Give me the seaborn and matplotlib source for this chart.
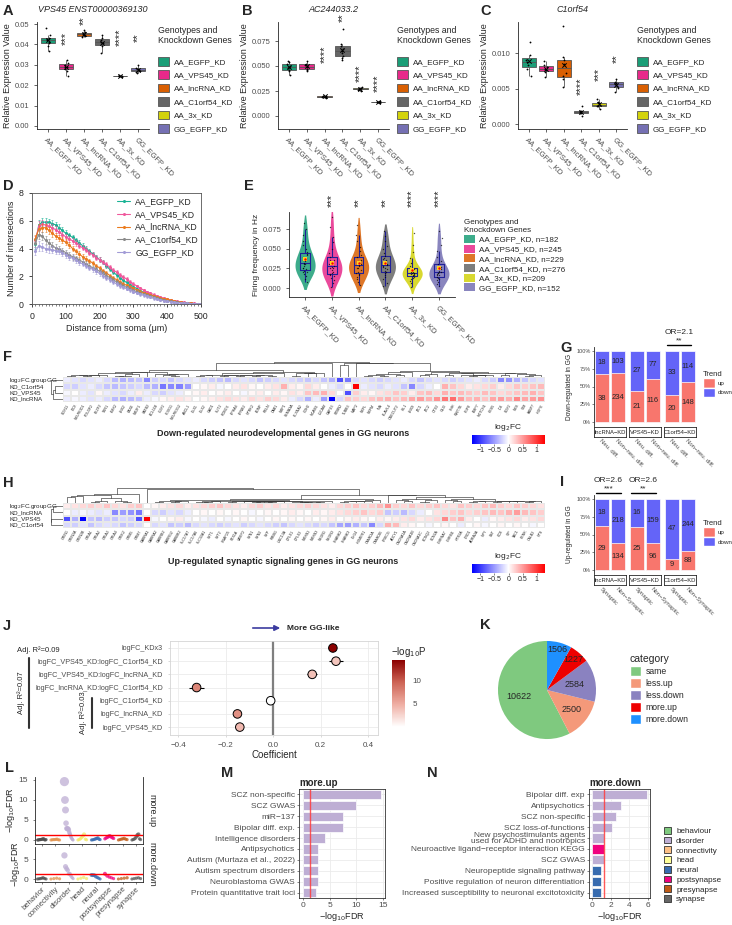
import numpy as np
import pandas as pd
import matplotlib
matplotlib.use("Agg")
import matplotlib.pyplot as plt
from matplotlib.patches import Patch
from matplotlib.lines import Line2D
from matplotlib.colors import LinearSegmentedColormap, Normalize
from matplotlib.cm import ScalarMappable
import seaborn as sns

# ---------------------------------------------------------------- data
groups = ["AA_EGFP_KD", "AA_VPS45_KD", "AA_lncRNA_KD", "AA_C1orf54_KD", "AA_3x_KD", "GG_EGFP_KD"]
group_colors = ["#1B9E77", "#E7298A", "#D95F02", "#666666", "#D2D20C", "#7570B3"]

# A-C: qPCR relative expression
vps45_expr = [[0.037, 0.039, 0.0405, 0.041, 0.042, 0.0425, 0.043, 0.0445, 0.048],
              [0.0245, 0.027, 0.028, 0.029, 0.029, 0.030, 0.031, 0.0325],
              [0.0435, 0.044, 0.0445, 0.045, 0.0455, 0.046, 0.047],
              [0.036, 0.039, 0.0405, 0.041, 0.042, 0.043, 0.0445],
              [0.0242, 0.0244, 0.0245, 0.0245, 0.0246, 0.0248],
              [0.026, 0.0265, 0.027, 0.0275, 0.028, 0.0285, 0.030]]
vps45_stars = ["", "***", "**", "", "****", "**"]
vps45_star_y = [0, 0.0427, 0.0518, 0, 0.0433, 0.0433]

ac244033_expr = [[0.041, 0.045, 0.0465, 0.048, 0.049, 0.050, 0.052, 0.054, 0.0555],
                 [0.045, 0.0465, 0.047, 0.049, 0.050, 0.0515, 0.0525, 0.0555],
                 [0.0185, 0.019, 0.0193, 0.0195, 0.0198, 0.020, 0.0205],
                 [0.056, 0.058, 0.060, 0.063, 0.065, 0.067, 0.070, 0.072, 0.087],
                 [0.025, 0.0265, 0.027, 0.0275, 0.028, 0.0285, 0.029],
                 [0.0132, 0.0137, 0.014, 0.0142, 0.0145, 0.0148]]
ac244033_stars = ["", "", "****", "**", "****", "****"]
ac244033_star_y = [0, 0, 0.0618, 0.098, 0.0426, 0.033]

c1orf54_expr = [[0.0068, 0.0078, 0.0083, 0.0087, 0.0090, 0.0097, 0.0116],
                [0.0067, 0.0073, 0.0076, 0.0078, 0.0080, 0.0084, 0.0089],
                [0.0052, 0.0063, 0.0068, 0.0072, 0.0085, 0.0090, 0.0094, 0.0138],
                [0.0011, 0.0015, 0.0016, 0.0017, 0.0018, 0.0019, 0.0026],
                [0.0021, 0.0025, 0.0026, 0.0027, 0.0029, 0.0031, 0.0036],
                [0.0045, 0.0051, 0.0054, 0.0056, 0.0058, 0.0060, 0.0064]]
c1orf54_stars = ["", "", "", "****", "***", "**"]
c1orf54_star_y = [0, 0, 0, 0.0053, 0.0070, 0.0093]

# D: Sholl analysis
sholl_groups = ["AA_EGFP_KD", "AA_VPS45_KD", "AA_lncRNA_KD", "AA_C1orf54_KD", "GG_EGFP_KD"]
sholl_colors = ["#19B394", "#F0589C", "#EB7B1E", "#8A8A8A", "#A29BD6"]
sholl_dist = list(range(10, 510, 10))
sholl_egfp = [4.3, 5.7, 5.9, 5.9, 5.9, 5.8, 5.7, 5.5, 5.3, 5.1, 4.95, 4.8, 4.6, 4.4, 4.2, 4.0, 3.8, 3.6, 3.4, 3.2,
              3.0, 2.75, 2.5, 2.3, 2.1, 1.9, 1.7, 1.55, 1.4, 1.26, 1.1, 0.95, 0.85, 0.75, 0.67, 0.58, 0.48, 0.4, 0.34, 0.3,
              0.25, 0.2, 0.16, 0.12, 0.1, 0.07, 0.05, 0.03, 0.02, 0.01]
sholl_vps45 = [4.6, 5.6, 5.75, 5.7, 5.6, 5.5, 5.35, 5.2, 5.0, 4.85, 4.7, 4.55, 4.4, 4.2, 4.05, 3.9, 3.7, 3.55, 3.35, 3.2,
               3.0, 2.85, 2.65, 2.45, 2.3, 2.1, 1.95, 1.8, 1.6, 1.45, 1.3, 1.15, 1.0, 0.88, 0.78, 0.68, 0.58, 0.5, 0.42, 0.35,
               0.29, 0.24, 0.19, 0.15, 0.12, 0.09, 0.06, 0.04, 0.03, 0.02]
sholl_lncrna = [4.7, 5.4, 5.5, 5.5, 5.3, 5.1, 4.9, 4.75, 4.6, 4.45, 4.25, 4.0, 3.8, 3.6, 3.4, 3.25, 3.1, 2.95, 2.75, 2.6,
                2.4, 2.25, 2.05, 1.9, 1.75, 1.6, 1.45, 1.35, 1.25, 1.15, 1.0, 0.9, 0.8, 0.72, 0.65, 0.56, 0.48, 0.42, 0.38, 0.33,
                0.27, 0.22, 0.17, 0.13, 0.1, 0.07, 0.05, 0.03, 0.02, 0.01]
sholl_c1orf54 = [4.4, 5.0, 4.9, 4.6, 4.4, 4.2, 4.05, 3.95, 3.85, 3.7, 3.55, 3.4, 3.3, 3.15, 3.05, 2.9, 2.75, 2.6, 2.5, 2.35,
                 2.2, 2.05, 1.9, 1.75, 1.6, 1.45, 1.3, 1.2, 1.1, 1.0, 0.88, 0.78, 0.7, 0.62, 0.55, 0.47, 0.4, 0.34, 0.28, 0.23,
                 0.19, 0.15, 0.12, 0.09, 0.07, 0.05, 0.03, 0.02, 0.01, 0.01]
sholl_gg = [3.8, 4.2, 4.1, 4.0, 3.95, 3.9, 3.85, 3.8, 3.7, 3.55, 3.4, 3.3, 3.15, 3.0, 2.9, 2.75, 2.6, 2.5, 2.35, 2.2,
            2.05, 1.9, 1.75, 1.6, 1.45, 1.3, 1.2, 1.1, 1.0, 0.9, 0.8, 0.7, 0.62, 0.55, 0.48, 0.4, 0.34, 0.28, 0.23, 0.19,
            0.15, 0.12, 0.09, 0.07, 0.05, 0.04, 0.03, 0.02, 0.01, 0.01]
sholl_sem = [0.3, 0.35, 0.3, 0.28, 0.26, 0.25, 0.24, 0.23, 0.22, 0.21, 0.2, 0.2, 0.19, 0.19, 0.18, 0.18, 0.17, 0.17, 0.16, 0.16,
             0.15, 0.15, 0.14, 0.14, 0.13, 0.13, 0.12, 0.12, 0.11, 0.11, 0.1, 0.1, 0.09, 0.09, 0.08, 0.08, 0.07, 0.07, 0.06, 0.06,
             0.05, 0.05, 0.04, 0.04, 0.03, 0.03, 0.02, 0.02, 0.02, 0.01]

# E: firing frequency
firing_n = [182, 245, 229, 276, 209, 152]
firing_stars = ["", "***", "**", "**", "****", "****"]
firing_egfp = [0.008, 0.012, 0.015, 0.018, 0.020, 0.021, 0.022, 0.024, 0.025, 0.026, 0.028, 0.030, 0.031, 0.032,
               0.034, 0.036, 0.038, 0.040, 0.042, 0.043, 0.046, 0.050, 0.055, 0.060, 0.068, 0.075, 0.083]
firing_vps45 = [0.001, 0.006, 0.010, 0.013, 0.015, 0.017, 0.018, 0.019, 0.021, 0.023, 0.025, 0.026, 0.027, 0.028,
                0.030, 0.031, 0.033, 0.035, 0.036, 0.040, 0.044, 0.050, 0.058, 0.065, 0.078, 0.090]
firing_lncrna = [0.004, 0.008, 0.011, 0.014, 0.016, 0.018, 0.019, 0.021, 0.023, 0.025, 0.026, 0.028, 0.029, 0.030,
                 0.031, 0.033, 0.034, 0.036, 0.039, 0.042, 0.047, 0.052, 0.060, 0.068, 0.080]
firing_c1orf54 = [0.002, 0.007, 0.011, 0.014, 0.017, 0.019, 0.020, 0.022, 0.024, 0.025, 0.027, 0.028, 0.029, 0.031,
                  0.033, 0.035, 0.037, 0.038, 0.041, 0.045, 0.049, 0.054, 0.060, 0.066, 0.072]
firing_3x = [0.001, 0.006, 0.009, 0.011, 0.013, 0.014, 0.015, 0.016, 0.017, 0.018, 0.018, 0.019, 0.019, 0.020,
             0.021, 0.022, 0.023, 0.024, 0.025, 0.028, 0.032, 0.038, 0.046, 0.055, 0.070]
firing_gg = [0.002, 0.005, 0.008, 0.010, 0.012, 0.013, 0.014, 0.016, 0.017, 0.018, 0.019, 0.019, 0.020, 0.021,
             0.022, 0.024, 0.025, 0.027, 0.030, 0.034, 0.040, 0.047, 0.055, 0.063, 0.073]

# F: down-regulated neurodevelopmental genes
f_rows = ["log$_2$FC.groupGG", "KD_C1orf54", "KD_VPS45", "KD_lncRNA"]
f_genes = ["SOX11", "DCX", "NEUROD1", "POU3F2", "FEZF2", "TBR1", "EMX2", "LHX2", "PAX6", "NR2F1", "SATB2", "BCL11B",
           "CUX2", "FOXG1", "NEUROG2", "ASCL1", "DLX1", "DLX2", "GAD1", "SLIT2", "ROBO1", "EPHA4", "EFNB2", "NTRK2",
           "BDNF", "RELN", "DAB1", "NRP1", "SEMA3A", "PLXNA2", "CDH2", "NCAM1", "L1CAM", "GAP43", "STMN2", "TUBB3",
           "MAP2", "NEFL", "NEFM", "INA", "ELAVL4", "ONECUT2", "ISL1", "LHX9", "ZIC1", "ZIC2", "OTX2", "GLI3", "SHH",
           "WNT7B", "FGF8", "BMP7", "NOTCH1", "HES5", "ID4", "SOX2", "NES", "VIM", "FABP7", "HOPX"]
f_gg = [-0.1, -0.15, -0.2, -0.15, -0.1, -0.2, -0.35, -0.4, -0.35, -0.3, -0.6, -0.25, -0.2, -0.3, -0.2, -0.15, -0.1, -0.2,
        -0.25, -0.3, -0.35, -0.2, -0.15, -0.2, -0.3, -0.25, -0.2, -0.15, -0.2, -0.25, -0.3, -0.2, -0.3, -0.4, -0.9, -0.7,
        -0.2, -0.15, -0.2, -0.25, -0.2, -0.15, -0.1, -0.2, -0.3, -0.2, -0.15, -0.2, -0.25, -0.2, -0.15, -0.1, -0.2, -0.25,
        -0.6, -0.55, -0.4, -0.3, -0.2, -0.15]
f_c1orf54 = [-0.2, -0.25, -0.15, -0.1, -0.2, -0.3, -0.35, -0.3, -0.25, -0.2, -0.35, -0.4, -0.7, -0.6, -0.65, -0.5, 0.0,
             0.05, 0.1, -0.05, 0.0, 0.1, 0.15, 0.05, 0.0, 0.1, 0.15, 0.4, 0.1, 0.05, 0.2, 0.1, 0.0, -0.1, -0.2, 0.0, 1.3,
             -0.1, -0.15, -0.2, -0.1, -0.15, -0.3, -0.6, -0.2, -0.1, 0.0, 0.4, 0.3, 0.2, 0.1, 0.15, 0.2, 0.25, 0.1, 0.2,
             0.3, 0.25, 0.3, 0.35]
f_vps45 = [-0.05, 0.0, -0.1, -0.15, 0.05, -0.1, -0.15, -0.2, -0.1, 0.1, -0.1, -0.2, -0.25, -0.15, -0.1, 0.0, 0.05, 0.1,
           0.0, 0.05, 0.1, 0.0, -0.05, 0.05, 0.1, 0.0, 0.1, 0.05, 0.15, 0.1, 0.3, 0.35, 0.4, 0.2, 0.0, -0.9, 0.25, 0.1,
           0.05, 0.15, 0.2, 0.3, 0.25, 0.1, 0.3, 0.35, 0.2, 0.4, 0.3, 0.35, 0.3, 0.25, 0.35, 0.3, 0.2, 0.25, 0.3, 0.35,
           0.4, 0.3]
f_lncrna = [-0.1, -0.05, -0.1, -0.15, -0.1, -0.2, -0.35, -0.4, -0.35, -0.3, -0.1, -0.05, 0.05, 0.1, 0.15, 0.1, 0.0, 0.05,
            0.1, 0.15, 0.2, 0.15, 0.1, 0.2, 0.15, 0.25, 0.2, 0.1, -0.1, -0.2, -0.4, -0.1, -0.5, -1.3, -0.2, 0.3, 0.25,
            0.2, 0.3, 0.35, 0.4, 0.3, 0.35, 0.45, 0.5, 0.4, 0.55, 0.7, 0.75, 0.5, 0.35, 0.4, 0.3, 0.45, 0.5, 0.4, 0.6,
            0.45, 0.5, 0.55]

# H: up-regulated synaptic signaling genes
h_rows = ["log$_2$FC.groupGG", "KD_lncRNA", "KD_VPS45", "KD_C1orf54"]
h_genes = ["GRIN1", "GRIN2A", "GRIN2B", "GRIA1", "GRIA2", "GRIA3", "GRIA4", "GRIK2", "GRM5", "GRM7", "GABRA1", "GABRA2",
           "GABRB2", "GABRG2", "GABBR2", "SLC17A7", "SLC17A6", "SLC32A1", "SYT1", "SYT2", "SNAP25", "STX1A", "VAMP2",
           "SYN1", "SYN2", "SYP", "RIMS1", "UNC13A", "CPLX1", "CPLX2", "NRXN1", "NRXN3", "NLGN1", "NLGN3", "SHANK2",
           "SHANK3", "DLG4", "HOMER1", "CAMK2A", "CAMK2B", "PRKCG", "ADCY1", "CACNA1A", "CACNA1B", "CACNA1C", "KCNQ2",
           "SCN2A", "CHRNA7", "CHRM1", "HTR2A", "DRD1", "ADRA2A", "NPY", "SST", "CCK", "VIP", "TAC1", "PENK", "CALB2", "NTS"]
h_gg = [0.1, 0.15, 0.2, 0.25, 0.2, 0.3, 0.2, 0.15, 0.25, 0.3, 0.0, 0.05, 0.1, 0.15, 0.2, 0.1, 0.15, 0.2, 0.25, 0.3, 0.2,
        0.15, 0.1, 0.2, 0.25, 0.15, 0.2, 0.1, 0.15, 0.2, 0.25, 0.2, 0.15, 0.1, 0.2, 0.25, 0.3, 0.2, 0.25, 0.35, 0.55, 0.25,
        0.2, 0.3, 0.2, 0.25, 0.3, 0.2, 0.15, 0.3, 0.25, 0.2, 0.3, 0.35, 0.25, 0.2, 0.3, 0.25, 0.2, 0.15]
h_lncrna = [0.0, -0.1, -0.05, -0.1, -0.15, -0.1, -0.6, -0.5, -0.55, -0.7, 0.0, -0.2, -0.25, -0.15, -0.2, -0.1, 0.0, 0.05,
            0.0, 0.05, 0.0, 0.05, 0.0, -0.05, 0.0, 0.05, 0.0, 0.05, 0.1, 0.05, 0.0, 0.1, 0.05, 0.1, 0.15, 0.2, 0.25, 0.3,
            0.2, 0.25, -0.3, -0.25, -0.35, -0.2, -0.1, 0.0, 0.15, 0.2, 0.25, 0.3, 0.2, 0.25, 0.3, 0.35, 0.3, 0.4, 0.5,
            0.35, 0.3, 0.25]
h_vps45 = [-0.9, -0.4, -1.3, -0.3, -0.35, -0.25, -0.3, -0.2, -0.25, -0.9, 1.3, -0.05, 0.0, 0.05, 0.1, -0.05, 0.0, -0.05,
           -0.1, 0.0, -0.05, 0.0, 0.05, 0.0, -0.05, 0.0, 0.05, 0.0, 0.05, 0.0, 0.05, 0.0, 0.05, 0.1, 0.0, 0.05, 0.1, 0.05,
           0.0, 0.1, 0.05, 0.1, 0.15, 0.2, 0.1, 0.15, 0.2, 0.6, 0.3, 0.4, 0.1, 0.0, -0.1, 0.05, 0.1, 0.15, 0.2, 0.1,
           0.15, 0.2]
h_c1orf54 = [-0.2, -0.25, -0.15, -0.3, -0.2, -0.15, -0.2, -0.3, -0.25, -0.2, 0.0, -0.2, -0.15, -0.3, -0.25, -0.35, -0.2,
             -0.15, -0.2, -0.25, -0.2, -0.15, -0.25, -0.2, -0.15, -0.2, -0.25, -0.3, -0.2, -0.15, -0.2, -0.25, -0.2,
             -0.3, -0.45, -0.5, -0.4, -0.3, -0.6, -0.2, 0.4, 0.35, 0.1, 0.05, 0.0, -0.05, 0.0, 0.05, 0.0, -0.1, 0.0,
             0.05, -0.05, 0.0, 0.05, 0.0, 0.05, 0.0, -0.05, 0.0]

# G / I: trend counts
trend_facets = ["lncRNA\u2212KD", "VPS45\u2212KD", "C1orf54\u2212KD"]
g_cats = ["Neu. diff.", "Non\u2212neu. diff."]
g_up = [[38, 234], [21, 116], [20, 148]]
g_down = [[18, 103], [27, 77], [33, 114]]
i_cats = ["Synaptic", "Non\u2212Synaptic"]
i_up = [[29, 134], [25, 96], [9, 88]]
i_down = [[18, 218], [16, 159], [47, 244]]
trend_colors = {"up": "#F8766D", "down": "#6464F8"}

# J: regression coefficients
j_terms = ["logFC_KDx3", "logFC_VPS45_KD:logFC_C1orf54_KD", "logFC_VPS45_KD:logFC_lncRNA_KD",
           "logFC_lncRNA_KD:logFC_C1orf54_KD", "logFC_C1orf54_KD", "logFC_lncRNA_KD", "logFC_VPS45_KD"]
j_coef = [0.252, 0.265, 0.165, -0.322, -0.01, -0.15, -0.14]
j_se = [0.012, 0.028, 0.02, 0.03, 0.01, 0.012, 0.015]
j_nlogp = [14.5, 3.5, 3.8, 7.5, 0.0, 6.8, 4.2]

# K: pie
pie_cats = ["same", "less.up", "less.down", "more.up", "more.down"]
pie_counts = [10622, 2500, 2584, 1227, 1506]
pie_colors = ["#7FC97F", "#F4997A", "#8A82C0", "#EE0000", "#1E90FF"]

# L: enrichment per category
l_cats = ["behavior", "connectivity", "disorder", "head", "neural", "postsynapse", "presynapse", "synapse"]
l_colors = ["#4D4D4D", "#E0914A", "#BEAED4", "#F2E86A", "#386CB0", "#F0027F", "#BF5B17", "#595959"]
l_up = [[0.0, 0.0, 0.05, 0.1, 0.1, 0.15, 0.2, 0.25, 0.3, 0.05, 0.0, 0.1],
        [0.0, 0.05, 0.1, 0.1, 0.15, 0.2, 0.05, 0.0],
        [14.6, 10.0, 7.5, 4.2, 2.9, 2.8, 2.8, 2.8, 2.5, 1.9, 1.5, 1.2, 0.8, 0.5, 0.3, 0.1, 0.0],
        [0.0, 0.1, 0.3, 0.6, 1.0, 1.4, 0.2, 0.05],
        [0.0, 0.05, 0.1, 0.2, 0.3, 0.4, 0.5, 0.2, 0.1],
        [0.3, 0.5, 0.7, 0.9, 1.0, 0.8, 0.6, 0.4],
        [0.0, 0.1, 0.2, 0.3, 0.4, 0.2, 0.1],
        [0.0, 0.1, 0.2, 0.4, 0.8, 1.2, 1.4, 0.3, 0.1]]
l_down = [[0.0, 0.05, 0.1, 0.2, 0.3, 0.1, 0.0],
          [0.0, 0.1, 0.2, 0.05],
          [5.9, 3.1, 2.6, 2.2, 1.3, 1.3, 0.8, 0.4, 0.1],
          [0.0, 0.2, 0.4, 0.1],
          [1.0, 0.95, 0.95, 0.6, 0.4, 0.2, 0.0],
          [1.3, 0.8, 0.5, 0.3, 0.1],
          [0.0, 0.1, 0.2, 0.3],
          [0.0, 0.1, 0.2, 0.3, 0.1]]

# M / N: enriched terms
cat_names = ["behaviour", "disorder", "connectivity", "head", "neural", "postsynapse", "presynapse", "synapse"]
cat_colors = ["#7FC97F", "#BEAED4", "#FDC086", "#FFFF99", "#386CB0", "#F0027F", "#BF5B17", "#666666"]
m_terms = ["SCZ non-specific", "SCZ GWAS", "miR\u2212137", "Bipolar diff. exp.", "Intelligence disorders",
           "Antipsychotics", "Autism (Murtaza et al., 2022)", "Autism spectrum disorders", "Neuroblastoma GWAS",
           "Protein quantitative trait loci"]
m_vals = [14.6, 10.0, 7.5, 7.5, 4.2, 2.9, 2.8, 2.8, 2.8, 2.5]
m_cats = ["disorder"] * 10
n_terms = ["Bipolar diff. exp", "Antipsychotics", "SCZ non-specific", "SCZ loss-of-functions",
           "New psychostimulants agents\nused for ADHD and nootropics", "Neuroactive ligand\u2212receptor interaction KEGG",
           "SCZ GWAS", "Neuropeptide signaling pathway", "Positive regulation of neuron differentiation",
           "Increased susceptibility to neuronal excitotoxicity"]
n_vals = [5.9, 3.1, 2.6, 2.2, 1.25, 1.3, 1.3, 1.0, 0.95, 0.95]
n_cats = ["disorder", "disorder", "disorder", "disorder", "disorder", "postsynapse", "disorder", "neural", "neural", "neural"]

# ---------------------------------------------------------------- setup
W, H = 732, 925
sns.set_style("ticks")
plt.rcParams["font.family"] = ["Liberation Sans", "DejaVu Sans"]
plt.rcParams["axes.linewidth"] = 0.6
GREY = "#4D4D4D"

fig = plt.figure(figsize=(W / 100, H / 100), dpi=100)
fig.patch.set_facecolor("white")


def px_axes(l, t, r, b):
    return fig.add_axes([l / W, 1 - b / H, (r - l) / W, (b - t) / H])


def fx(x):
    return x / W


def fy(y):
    return 1 - y / H


def panel_label(x, y, s):
    fig.text(fx(x), fy(y), s, fontsize=10.5, fontweight="bold", ha="left", va="center")


# ---------------------------------------------------------------- A-C
def qpcr_panel(left, right, values, stars, star_y, title, ylim, yticks, ytl, legend_x):
    ax = px_axes(left, 22, right, 129)
    df = pd.DataFrame({"group": np.repeat(groups, [len(v) for v in values]),
                       "value": np.concatenate(values)})
    sns.boxplot(data=df, x="group", y="value", hue="group", order=groups, hue_order=groups,
                palette=group_colors, saturation=1, width=0.8, linewidth=0.6, linecolor="#555555",
                showfliers=False, showcaps=False, legend=False, ax=ax)
    sns.stripplot(data=df, x="group", y="value", order=groups, color="black", size=1.3,
                  jitter=0.12, ax=ax)
    ax.scatter(range(len(groups)), [np.mean(v) for v in values], marker="x", s=10,
               color="black", linewidths=0.7, zorder=5)
    for i, (s, y) in enumerate(zip(stars, star_y)):
        if s:
            ax.text(i, y, s, rotation=90, ha="center", va="center", fontsize=8, clip_on=False)
    sns.despine(ax=ax)
    ax.set_ylim(*ylim)
    ax.set_xlim(-0.6, 5.6)
    ax.set_yticks(yticks)
    ax.set_yticklabels(ytl)
    ax.set_xticks(range(len(groups)))
    ax.set_xticklabels(groups, rotation=-45, ha="left", rotation_mode="anchor")
    ax.tick_params(labelsize=5.5, labelcolor=GREY, length=2, width=0.5)
    ax.set_xlabel("")
    ax.set_ylabel("Relative Expression Value", fontsize=6.5, labelpad=2)
    fig.text(fx((left + right) / 2), fy(9), title, fontsize=6.5, style="italic", ha="center", va="center")
    fig.text(fx(legend_x), fy(26), "Genotypes and\nKnockdown Genes", fontsize=6.3, ha="left", va="top",
             linespacing=1.15)
    handles = [Patch(facecolor=c, edgecolor="#555555", linewidth=0.6) for c in group_colors]
    ax.legend(handles, groups, loc="upper left",
              bbox_to_anchor=(fx(legend_x), fy(57)), bbox_transform=fig.transFigure, frameon=False,
              fontsize=5.8, handlelength=1.4, handleheight=1.25, labelspacing=0.55,
              handletextpad=0.6, borderpad=0, borderaxespad=0)


qpcr_panel(37, 149, vps45_expr, vps45_stars, vps45_star_y, "VPS45 ENST00000369130", (-0.0015, 0.051),
           [0, 0.01, 0.02, 0.03, 0.04, 0.05], ["0.00", "0.01", "0.02", "0.03", "0.04", "0.05"], 158)
qpcr_panel(278, 389, ac244033_expr, ac244033_stars, ac244033_star_y, "AC244033.2", (-0.013, 0.094),
           [0, 0.025, 0.05, 0.075], ["0.000", "0.025", "0.050", "0.075"], 397)
qpcr_panel(518, 627, c1orf54_expr, c1orf54_stars, c1orf54_star_y, "C1orf54", (-0.0007, 0.0144),
           [0, 0.005, 0.01], ["0.000", "0.005", "0.010"], 637)
panel_label(3, 11, "A")
panel_label(242, 11, "B")
panel_label(480, 11, "C")

# ---------------------------------------------------------------- D
ax = px_axes(32, 193, 201, 304)
for name, vals, col in zip(sholl_groups, [sholl_egfp, sholl_vps45, sholl_lncrna, sholl_c1orf54, sholl_gg], sholl_colors):
    ax.errorbar(sholl_dist, vals, yerr=sholl_sem, fmt="none", ecolor=col, elinewidth=0.5, capsize=1, capthick=0.5, alpha=0.8)
    sns.lineplot(x=sholl_dist, y=vals, color=col, marker="o", markersize=2.2, markeredgewidth=0, linewidth=0.8, ax=ax)
ax.set_xlim(0, 500)
ax.set_ylim(0, 8)
ax.set_xticks(range(0, 600, 100))
ax.set_xticks(range(0, 510, 10), minor=True)
ax.set_yticks([0, 2, 4, 6, 8])
ax.tick_params(labelsize=6.3, length=2.5, width=0.6)
ax.tick_params(which="minor", length=1.2, width=0.4)
ax.set_xlabel("Distance from soma (\u03bcm)", fontsize=6.5, labelpad=2)
ax.set_ylabel("Number of intersections", fontsize=6.5, labelpad=2)
for s in ax.spines.values():
    s.set_color("#555555")
handles = [Line2D([0], [0], color=c, lw=0.8, marker="o", markersize=2.2, markeredgewidth=0) for c in sholl_colors]
ax.legend(handles, sholl_groups, loc="upper left", bbox_to_anchor=(fx(113), fy(193)), bbox_transform=fig.transFigure,
          frameon=False, fontsize=6.2, handlelength=1.5, labelspacing=0.42, borderpad=0, handletextpad=0.6)
panel_label(3, 186, "D")

# ---------------------------------------------------------------- E
ax = px_axes(289, 212, 455, 297)
firing = [firing_egfp, firing_vps45, firing_lncrna, firing_c1orf54, firing_3x, firing_gg]
df_e = pd.DataFrame({"group": np.repeat(groups, [len(v) for v in firing]), "freq": np.concatenate(firing)})
sns.violinplot(data=df_e, x="group", y="freq", hue="group", order=groups, hue_order=groups, palette=group_colors,
               saturation=1, inner=None, cut=1, density_norm="width", width=0.75, linewidth=0, legend=False, ax=ax)
for coll in ax.collections:
    coll.set_alpha(0.85)
sns.stripplot(data=df_e, x="group", y="freq", order=groups, color="black", size=1.0, alpha=0.7, jitter=0.1, ax=ax)
sns.boxplot(data=df_e, x="group", y="freq", order=groups, fill=False, color="#1F1F99", width=0.35, linewidth=0.8,
            showfliers=False, showcaps=False, ax=ax)
means = [np.mean(v) for v in firing]
ax.scatter(range(6), means, marker="s", s=11, color="#FFD21F", zorder=6, linewidths=0)
ax.scatter(range(6), means, marker="o", s=3, color="red", zorder=7, linewidths=0)
for i, s in enumerate(firing_stars):
    if s:
        ax.text(i, 0.1025, s, rotation=90, ha="center", va="bottom", fontsize=8, clip_on=False)
sns.despine(ax=ax)
ax.set_ylim(-0.0114, 0.0966)
ax.set_xlim(-0.6, 5.6)
ax.set_yticks([0, 0.025, 0.05, 0.075])
ax.set_yticklabels(["0.000", "0.025", "0.050", "0.075"])
ax.set_xticks(range(6))
ax.set_xticklabels(groups, rotation=-45, ha="left", rotation_mode="anchor")
ax.tick_params(labelsize=5.5, labelcolor=GREY, length=2, width=0.5)
ax.set_xlabel("")
ax.set_ylabel("Firing frequency in Hz", fontsize=6, labelpad=2)
handles = [Patch(facecolor=c, alpha=0.85, linewidth=0) for c in group_colors]
ax.legend(handles, [f"{g}, n={n}" for g, n in zip(groups, firing_n)], title="Genotypes and\nKnockdown Genes",
          loc="upper left", bbox_to_anchor=(fx(464), fy(219)), bbox_transform=fig.transFigure, frameon=False,
          fontsize=5.8, title_fontsize=5.8, handlelength=1.4, handleheight=1.15, labelspacing=0.12,
          handletextpad=0.5, borderpad=0, borderaxespad=0, alignment="left")
panel_label(244, 186, "E")


# ---------------------------------------------------------------- F / H heatmaps
def ordered_linkage(obs):
    obs = np.asarray(obs, dtype=float)
    dist = np.sqrt(((obs[:, None, :] - obs[None, :, :]) ** 2).sum(-1))
    members = [[i] for i in range(len(obs))]
    centers = [i + 0.5 for i in range(len(obs))]
    heights = [0.0] * len(obs)
    links = []
    while len(members) > 1:
        d = [dist[np.ix_(members[k], members[k + 1])].mean() for k in range(len(members) - 1)]
        k = int(np.argmin(d))
        h = max(d[k], heights[k] * 1.02, heights[k + 1] * 1.02)
        links.append((centers[k], heights[k], centers[k + 1], heights[k + 1], h))
        members[k] = members[k] + members.pop(k + 1)
        centers[k] = (centers[k] + centers.pop(k + 1)) / 2
        heights.pop(k + 1)
        heights[k] = h
    return links


hm_cmap = LinearSegmentedColormap.from_list("bwr_ph", ["#0000FF", "#FFFFFF", "#FF0000"])


def heatmap_panel(rows, row_names, genes, top, title, title_y):
    mat = np.array(rows)
    hl, hr = 63, 545
    ax_d = px_axes(hl, top, hr, top + 15)
    links = ordered_linkage(mat.T)
    for x1, h1, x2, h2, h in links:
        ax_d.plot([x1, x1, x2, x2], [h1, h, h, h2], color="#333333", lw=0.45)
    ax_d.set_xlim(0, mat.shape[1])
    ax_d.set_ylim(0, max(l[4] for l in links) * 1.02)
    ax_d.axis("off")
    ax_r = px_axes(51, top + 15, hl, top + 40)
    rlinks = ordered_linkage(mat)
    for x1, h1, x2, h2, h in rlinks:
        ax_r.plot([h1, h, h, h2], [x1, x1, x2, x2], color="#333333", lw=0.45)
    ax_r.set_ylim(mat.shape[0], 0)
    ax_r.set_xlim(max(l[4] for l in rlinks) * 1.02, 0)
    ax_r.axis("off")
    ax_h = px_axes(hl, top + 15, hr, top + 40)
    ax_c = px_axes(472, title_y + 2, 545, title_y + 11)
    sns.heatmap(mat, ax=ax_h, cmap=hm_cmap, vmin=-1.3, vmax=1.3, cbar=True, cbar_ax=ax_c,
                cbar_kws={"orientation": "horizontal", "ticks": [-1, -0.5, 0, 0.5, 1]},
                xticklabels=genes, yticklabels=False, linewidths=0.15, linecolor="#E8E8E8")
    ax_h.set_xticklabels(genes, rotation=60, ha="right", rotation_mode="anchor", fontsize=2.6)
    ax_h.tick_params(axis="x", length=0, pad=1)
    for i, name in enumerate(row_names):
        fig.text(fx(9), fy(top + 15 + (i + 0.5) * 25 / len(row_names)), name, fontsize=4.5, ha="left", va="center")
    cb = ax_h.collections[0].colorbar
    cb.outline.set_visible(False)
    cb.ax.set_xticklabels(["\u22121", "\u22120.5", "0", "0.5", "1"])
    cb.ax.tick_params(labelsize=5, length=1.5, width=0.4, pad=1)
    fig.text(fx(508), fy(title_y - 5), "log$_2$FC", fontsize=6, ha="center", va="center")
    fig.text(fx(283), fy(title_y), title, fontsize=6.5, fontweight="bold", ha="center", va="center")


heatmap_panel([f_gg, f_c1orf54, f_vps45, f_lncrna], f_rows, f_genes, 362,
              "Down-regulated neurodevelopmental genes in GG neurons", 433)
panel_label(3, 357, "F")
heatmap_panel([h_gg, h_lncrna, h_vps45, h_c1orf54], h_rows, h_genes, 488,
              "Up-regulated synaptic signaling genes in GG neurons", 562)
panel_label(3, 483, "H")

# ---------------------------------------------------------------- G / I
facet_x = [(594, 626), (629, 661), (664, 696)]


def trend_panel(top, cats, up, down, ylabel, brackets, legend_y):
    bottom = top + 79
    for k, (l, r) in enumerate(facet_x):
        ax = px_axes(l, top, r, bottom)
        u = np.array(up[k])
        d = np.array(down[k])
        frac = u / (u + d)
        sns.barplot(x=cats, y=np.ones(len(cats)), color=trend_colors["down"], saturation=1, width=0.9,
                    edgecolor="white", linewidth=0.5, ax=ax)
        sns.barplot(x=cats, y=frac, color=trend_colors["up"], saturation=1, width=0.9,
                    edgecolor="white", linewidth=0.5, ax=ax)
        for i in range(len(cats)):
            ax.text(i, frac[i] / 2, str(u[i]), ha="center", va="center", fontsize=5.5)
            ax.text(i, frac[i] + (1 - frac[i]) / 2, str(d[i]), ha="center", va="center", fontsize=5.5)
        ax.set_ylim(-0.05, 1.05)
        ax.set_xlim(-0.5, 1.5)
        sns.despine(ax=ax, bottom=True, left=(k > 0))
        ax.set_xticks(range(len(cats)))
        ax.set_xticklabels(cats, rotation=-45, ha="left", rotation_mode="anchor")
        ax.tick_params(axis="x", length=0, pad=9, labelsize=4.3, labelcolor=GREY)
        if k == 0:
            ax.set_yticks([0, 0.25, 0.5, 0.75, 1])
            ax.set_yticklabels(["0%", "25%", "50%", "75%", "100%"])
            ax.tick_params(axis="y", labelsize=4.0, labelcolor=GREY, length=1.5, width=0.4, pad=1)
            ax.set_ylabel(ylabel, fontsize=4.8, labelpad=2)
        else:
            ax.set_yticks([])
            ax.set_ylabel("")
        if brackets[k]:
            star, ortext, (x0, x1) = brackets[k]
            ax.plot([x0, x1], [1.08, 1.08], color="black", lw=1, clip_on=False)
            ax.text((x0 + x1) / 2, 1.09, star, ha="center", va="bottom", fontsize=6, clip_on=False)
            ax.text((x0 + x1) / 2, 1.2, ortext, ha="center", va="bottom", fontsize=6, clip_on=False)
        sax = px_axes(l, bottom + 1, r, bottom + 11)
        sax.set_xticks([])
        sax.set_yticks([])
        for s in sax.spines.values():
            s.set_linewidth(0.6)
        sax.text(0.5, 0.5, trend_facets[k], ha="center", va="center", fontsize=4.2, transform=sax.transAxes)
    handles = [Patch(facecolor=trend_colors["up"]), Patch(facecolor=trend_colors["down"])]
    fig.legend(handles, ["up", "down"], title="Trend", loc="upper left", bbox_to_anchor=(fx(703), fy(legend_y)),
               frameon=False, fontsize=4.5, title_fontsize=5.5, handlelength=1.9, handleheight=1.9,
               labelspacing=0.05, handletextpad=0.5, borderpad=0, borderaxespad=0, alignment="left")


trend_panel(347, g_cats, g_up, g_down, "Down-regulated in GG", [None, None, ("**", "OR=2.1", (-0.3, 1.2))], 371)
panel_label(560, 348, "G")
trend_panel(495, i_cats, i_up, i_down, "Up-regulated in GG",
            [("***", "OR=2.6", (-0.4, 1.2)), ("**", "OR=2.6", (-0.4, 1.2)), None], 520)
panel_label(560, 482, "I")

# ---------------------------------------------------------------- J
j_cmap = LinearSegmentedColormap.from_list("jred", ["#FFFFFF", "#EFAFA4", "#CD6455", "#8B0000"])
ax = px_axes(170, 641, 378, 735)
ax.axvline(0, color="#7F7F7F", lw=1.6, zorder=1)
ax.errorbar(j_coef, range(len(j_terms)), xerr=j_se, fmt="none", ecolor="black", elinewidth=0.8, zorder=2)
sns.scatterplot(x=j_coef, y=j_terms, hue=j_nlogp, palette=j_cmap, hue_norm=(0, 14.5), s=38, edgecolor="black",
                linewidth=0.7, legend=False, ax=ax, zorder=3)
ax.set_xlim(-0.434, 0.442)
ax.set_ylim(6.6, -0.53)
ax.set_xticks([-0.4, -0.2, 0, 0.2, 0.4])
ax.set_xticklabels(["\u22120.4", "\u22120.2", "0.0", "0.2", "0.4"])
ax.grid(color="#EBEBEB", lw=0.6)
ax.set_axisbelow(True)
for s in ax.spines.values():
    s.set_color("#D5D5D5")
ax.tick_params(labelsize=5.8, labelcolor=GREY, length=1.5, width=0.4, color="#BBBBBB")
ax.tick_params(axis="y", labelsize=5.2)
ax.set_xlabel("Coefficient", fontsize=7, labelpad=1)
cax = px_axes(392, 660, 405, 727)
cb = fig.colorbar(ScalarMappable(Normalize(0, 14.5), j_cmap), cax=cax, ticks=[5, 10])
cb.outline.set_visible(False)
cb.ax.tick_params(labelsize=5.8, length=2, color="white", labelcolor=GREY)
fig.text(fx(391), fy(652), "\u2212log$_{10}$P", fontsize=7, ha="left", va="center")
ax.annotate("", xy=(fx(283), fy(628)), xytext=(fx(250), fy(628)), xycoords="figure fraction",
            arrowprops=dict(arrowstyle="-|>", color="#3C3CA0", lw=1.2, mutation_scale=8))
fig.text(fx(287), fy(628), "More GG-like", fontsize=6, fontweight="bold", ha="left", va="center")
fig.text(fx(17), fy(650), "Adj. R\u00b2=0.09", fontsize=5.5, ha="left", va="center")
fig.add_artist(Line2D([fx(29), fx(29)], [fy(658), fy(728)], color="#333333", lw=1.5))
fig.text(fx(21), fy(693), "Adj. R\u00b2=0.07", fontsize=5.5, rotation=90, ha="center", va="center")
fig.add_artist(Line2D([fx(92), fx(92)], [fy(698), fy(728)], color="#333333", lw=1.5))
fig.text(fx(83), fy(713), "Adj. R\u00b2=0.03", fontsize=5.5, rotation=90, ha="center", va="center")
panel_label(3, 626, "J")

# ---------------------------------------------------------------- K
ax = px_axes(497, 640, 597, 740)
wedges, _ = ax.pie(pie_counts, colors=pie_colors, startangle=90, counterclock=True, radius=1,
                   wedgeprops=dict(linewidth=0))
for w, n, rr in zip(wedges, pie_counts, [0.58, 0.65, 0.58, 0.82, 0.86]):
    ang = np.deg2rad((w.theta1 + w.theta2) / 2)
    ax.text(rr * np.cos(ang), rr * np.sin(ang), str(n), ha="center", va="center", fontsize=6.5)
ax.set_xlim(-1.02, 1.02)
ax.set_ylim(-1.02, 1.02)
handles = [Patch(facecolor=c) for c in pie_colors]
ax.legend(handles, pie_cats, title="category", loc="upper left", bbox_to_anchor=(fx(630), fy(654)),
          bbox_transform=fig.transFigure, frameon=False, fontsize=6.2, title_fontsize=7.5, handlelength=1.3,
          handleheight=1.3, labelspacing=0.28, handletextpad=0.5, borderpad=0, borderaxespad=0, alignment="left")
panel_label(480, 625, "K")


# ---------------------------------------------------------------- L
def l_panel(ax, values, ylim, yticks, strip):
    xs, vs, cs = [], [], []
    for ci, (cat, vals) in enumerate(zip(l_cats, values)):
        xs += list(ci + np.linspace(-0.32, 0.32, len(vals)))
        vs += vals
        cs += [cat] * len(vals)
    df = pd.DataFrame({"x": xs, "v": vs, "cat": cs})
    sns.scatterplot(data=df, x="x", y="v", hue="cat", palette=dict(zip(l_cats, l_colors)), size="v",
                    sizes=(5, 45), size_norm=(0, 15), alpha=0.75, linewidth=0, legend=False, ax=ax)
    ax.axhline(1.3, color="red", lw=1)
    ax.set_xlim(-0.5, 7.5)
    ax.set_ylim(*ylim)
    ax.set_yticks(yticks)
    ax.set_xticks(range(len(l_cats)))
    ax.tick_params(labelsize=6, labelcolor=GREY, length=1.5, width=0.4)
    ax.set_ylabel("\u2212log$_{10}$FDR", fontsize=6.5, labelpad=1)
    ax.set_xlabel("")
    sns.despine(ax=ax, top=True, right=False)
    ax.text(1.04, 0.5, strip, rotation=270, transform=ax.transAxes, ha="left", va="center", fontsize=6.5)


ax_up = px_axes(35, 777, 143, 844)
l_panel(ax_up, l_up, (-1, 15.75), [0, 5, 10, 15], "more.up")
ax_up.set_xticklabels([])
ax_dn = px_axes(35, 847, 143, 882)
l_panel(ax_dn, l_down, (-0.75, 8), [0, 5], "more.down")
ax_dn.set_xticklabels(l_cats, rotation=45, ha="right", rotation_mode="anchor", fontsize=5.5)
ax_dn.tick_params(axis="x", pad=1)
panel_label(5, 768, "L")


# ---------------------------------------------------------------- M / N
def enrich_panel(ax, terms, vals, cats, title, xlim, xticks):
    sns.barplot(x=vals, y=terms, hue=cats, palette=dict(zip(cat_names, cat_colors)), dodge=False, width=0.85,
                saturation=1, edgecolor="white", linewidth=0.5, legend=False, orient="h", ax=ax)
    ax.axvline(1.3, color="#FF3B3B", lw=1, alpha=0.85)
    ax.set_xlim(*xlim)
    ax.set_xticks(xticks)
    ax.grid(color="#EBEBEB", lw=0.6)
    ax.set_axisbelow(True)
    for s in ax.spines.values():
        s.set_color("#333333")
        s.set_linewidth(0.6)
    ax.tick_params(labelsize=6, labelcolor=GREY, length=1.5, width=0.4, pad=1.5)
    ax.set_ylabel("")
    ax.set_xlabel("\u2212log$_{10}$FDR", fontsize=6.5, labelpad=0.5)
    ax.set_title(title, loc="left", fontsize=7, fontweight="bold", pad=2)


ax_m = px_axes(299, 789, 385, 898)
enrich_panel(ax_m, m_terms, m_vals, m_cats, "more.up", (-0.73, 15.33), [0, 5, 10, 15])
ax_n = px_axes(589, 789, 650, 898)
enrich_panel(ax_n, n_terms, n_vals, n_cats, "more.down", (-0.3, 6.2), [0, 2, 4, 6])
for t in ax_n.get_yticklabels():
    t.set_linespacing(0.85)
panel_label(221, 773, "M")
panel_label(427, 773, "N")

handles = [Patch(facecolor=c, edgecolor="#333333", linewidth=0.6) for c in cat_colors]
fig.legend(handles, cat_names, loc="upper left", bbox_to_anchor=(fx(664), fy(827)), frameon=False, fontsize=5.8,
           handlelength=0.9, handleheight=0.9, labelspacing=0.2, handletextpad=0.6, borderpad=0, borderaxespad=0)

fig.savefig("out.png", dpi=100, facecolor="white")
